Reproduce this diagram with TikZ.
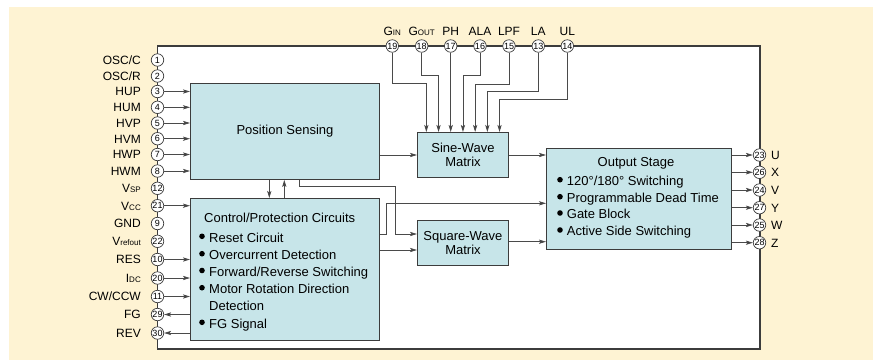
\documentclass[tikz,border=0pt]{standalone}
\usepackage{fontspec}
\setmainfont{Liberation Sans}
\usetikzlibrary{arrows.meta,calc}
\definecolor{cream}{HTML}{FEF3D3}
\definecolor{boxfill}{HTML}{C7E5E9}
\definecolor{ln}{HTML}{3C3C3C}
\definecolor{wire}{HTML}{4A4A4A}
\newcommand{\sm}[1]{{\fontsize{8}{8}\selectfont #1}}
\tikzset{
  blk/.style={draw=ln, fill=boxfill, line width=0.9pt, inner sep=0, anchor=north west},
  pinc/.style={circle, draw=ln, fill=white, line width=0.7pt, minimum size=12.5pt, inner sep=0, font=\fontsize{9}{9}\selectfont},
  lbl/.style={inner sep=0, font=\fontsize{12}{12}\selectfont},
  txt/.style={inner sep=0, font=\fontsize{13}{13}\selectfont},
  arr/.style={draw=wire, line width=0.85pt, -{Stealth[length=7pt,width=4.2pt,inset=1.5pt,fill=black!85]}},
  bul/.style={fill=black}
}
\begin{document}
\begin{tikzpicture}[x=1pt,y=-1pt]
\useasboundingbox (0,0) rectangle (873,360);
\fill[cream] (9,7) rectangle (873,360);
\draw[ln, fill=white, line width=1.1pt] (157.5,46) rectangle (760,349);

% blocks
\node[blk, minimum width=189pt, minimum height=96pt] (ps) at (190,83) {};
\node[blk, minimum width=189pt, minimum height=142pt] (ctl) at (190,198) {};
\node[blk, minimum width=91pt, minimum height=45pt] (sw) at (417,132) {};
\node[blk, minimum width=91pt, minimum height=45pt] (sq) at (417,220) {};
\node[blk, minimum width=185pt, minimum height=101pt] (out) at (546,148) {};

% block texts
\node[txt] (pst) at (ps.center) {Position Sensing};
\node[txt, align=center] (swt) at (sw.center) {Sine-Wave\\[1pt]Matrix};
\node[txt, align=center] (sqt) at (sq.center) {Square-Wave\\[1pt]Matrix};
\node[txt, anchor=base west] (ct0) at (204,222.4) {Control/Protection Circuits};
\foreach \n/\y/\t in {1/237.3/{Reset Circuit}, 2/254.7/{Overcurrent Detection}, 3/271.5/{Forward/Reverse Switching}, 4/288.7/{Motor Rotation Direction}, 6/323.3/{FG Signal}}{
  \fill[bul] (202,\y-1) circle (2.8pt);
  \node[txt, anchor=base west] (ct\n) at (209,\y+4.7) {\t};
}
\node[txt, anchor=base west] (ct5) at (209,310.7) {Detection};
\node[txt, anchor=base] (ot0) at (636,166.4) {Output Stage};
\foreach \n/\y/\t in {1/180.7/{120°/180° Switching}, 2/197.7/{Programmable Dead Time}, 3/214/{Gate Block}, 4/231/{Active Side Switching}}{
  \fill[bul] (560,\y-1) circle (2.8pt);
  \node[txt, anchor=base west] (ot\n) at (566.7,\y+4.7) {\t};
}

% left pins
\foreach \n/\y/\t in {1/60/{OSC/C}, 2/76/{OSC/R}, 3/91.5/HUP, 4/107.3/HUM, 5/123/HVP, 6/138.7/HVM, 7/154.5/HWP, 8/171/HWM, 12/188.3/{V\sm{SP}}, 21/205.7/{V\sm{CC}}, 9/223.5/GND, 22/241.3/{V\sm{refout}}, 10/259.5/RES, 20/278/{I\sm{DC}}, 11/296.5/{CW/CCW}, 29/314.5/FG, 30/333/REV}{
  \node[pinc] (p\n) at (157.5,\y) {\n};
  \node[lbl, anchor=base east] (l\n) at (141,\y+4.3) {\t};
}
% top pins
\foreach \n/\x/\t in {19/392.3/{G\sm{IN}}, 18/421.7/{G\sm{OUT}}, 17/450.7/PH, 16/480/ALA, 15/509/LPF, 13/538.3/LA, 14/567.3/UL}{
  \node[pinc] (p\n) at (\x,46) {\n};
  \node[lbl, anchor=base] (l\n) at (\x,35) {\t};
}
% right pins
\foreach \n/\y/\t in {23/155/U, 26/172.3/X, 24/190/V, 27/207.7/Y, 25/225/W, 28/242.7/Z}{
  \node[pinc] (p\n) at (759.5,\y) {\n};
  \node[lbl, anchor=base west] (l\n) at (771,\y+4.3) {\t};
}

% left connectors
\foreach \n in {3,4,5,6,7,8}{ \draw[arr] (p\n) -- (p\n -| ps.west); }
\foreach \n in {21,10,20,11}{ \draw[arr] (p\n) -- (p\n -| ctl.west); }
\foreach \n in {29,30}{ \draw[arr] (p\n -| ctl.west) -- (p\n); }

% top connectors
\draw[arr] (p19) -- (p19 |- 0,83.3) -| ([xshift=-36.6pt]sw.north);
\draw[arr] (p18) -- (p18 |- 0,75.7) -| ([xshift=-24.4pt]sw.north);
\draw[arr] (p17) -- (p17 |- sw.north);
\draw[arr] (p16) -- (p16 |- 0,75.7) -| ([xshift=0pt]sw.north);
\draw[arr] (p15) -- (p15 |- 0,84) -| ([xshift=12.2pt]sw.north);
\draw[arr] (p13) -- (p13 |- 0,91.7) -| ([xshift=24.4pt]sw.north);
\draw[arr] (p14) -- (p14 |- 0,99.3) -| ([xshift=36.6pt]sw.north);

% right connectors
\foreach \n in {23,26,24,27,25,28}{ \draw[arr] (p\n -| out.east) -- (p\n); }

% internal connectors
\draw[arr] (ps.east |- 0,155) -- (sw.west |- 0,155);
\draw[arr] (sw.east |- 0,155) -- (out.west |- 0,155);
\draw[arr] (ps.south -| 269.3,0) -- (ctl.north -| 269.3,0);
\draw[arr] (ctl.north -| 284.3,0) -- (ps.south -| 284.3,0);
\draw[arr] (ps.south -| 299.3,0) -- (299.3,186.7) -| (395,234) -- (sq.west |- 0,234);
\draw[arr] (ctl.east |- 0,234) -- (386.7,234) -- (386.7,203.3) -- (out.west |- 0,203.3);
\draw[arr] (ctl.east |- 0,250) -- (sq.west |- 0,250);
\draw[arr] (sq.east |- 0,241.7) -- (out.west |- 0,241.7);
\end{tikzpicture}
\end{document}
